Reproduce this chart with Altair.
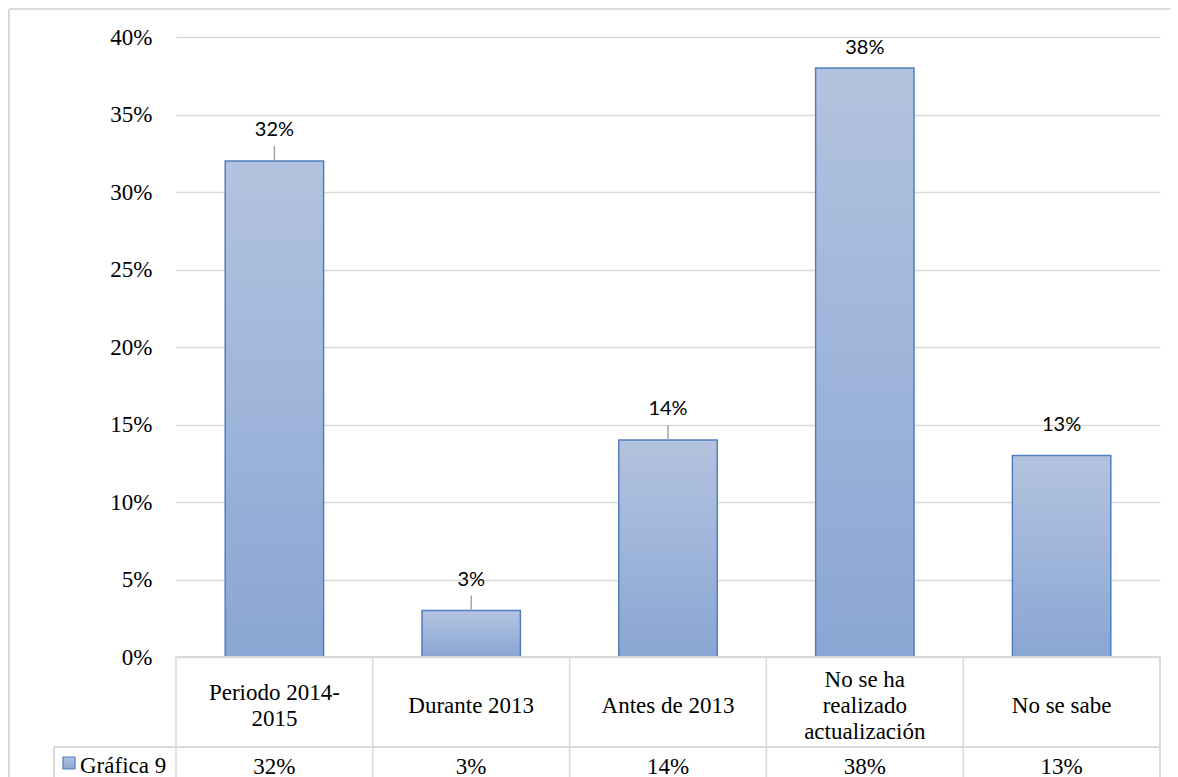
import altair as alt
import pandas as pd

# ---- data ----
categories = ["Periodo 2014-2015", "Durante 2013", "Antes de 2013",
              "No se ha realizado actualización", "No se sabe"]
table_labels = ["Periodo 2014-\n2015", "Durante 2013", "Antes de 2013",
                "No se ha\nrealizado\nactualización", "No se sabe"]
values = [0.32, 0.03, 0.14, 0.38, 0.13]
series_name = "Gráfica 9"
y_ticks = [0, 0.05, 0.10, 0.15, 0.20, 0.25, 0.30, 0.35, 0.40]

# ---- style ----
has_leader = [True, True, True, False, False]
W, H = 984, 620
YMAX = 0.4
PX = H / YMAX                      # pixels per unit
STEP = W / len(categories)
GRID = "#d9d9d9"
EDGE = "#4f7fbf"
SERIF = "'Liberation Serif', 'Times New Roman', 'DejaVu Serif', serif"
SANS = "Lato"
FS = 23
LH = 26

grad = alt.LinearGradient(
    gradient="linear", x1=0, x2=0, y1=0, y2=1,
    stops=[alt.GradientStop(color="#b3c3df", offset=0),
           alt.GradientStop(color="#8aa6d4", offset=1)])

df = pd.DataFrame({"cat": categories, "label": table_labels,
                   "value": values, "leader": has_leader})

xenc = alt.X("cat:N", sort=categories, axis=None,
             scale=alt.Scale(paddingInner=0.5, paddingOuter=0.25))

base = alt.Chart(df)

frame_top = base.mark_rule(color=GRID, strokeWidth=1.5).encode(
    x=alt.value(-167), x2=alt.value(W + 10), y=alt.value(-28))
frame_left = base.mark_rule(color=GRID, strokeWidth=1.5).encode(
    x=alt.value(-167), y=alt.value(-28), y2=alt.value(H + 200))

bars = base.mark_bar(fill=grad, stroke=EDGE, strokeWidth=1.5).encode(
    x=xenc,
    y=alt.Y("value:Q", scale=alt.Scale(domain=[0, YMAX]),
            axis=alt.Axis(values=y_ticks, format=".0%", domain=False, ticks=False,
                          grid=True, gridColor=GRID, gridWidth=1.5,
                          labelFont=SERIF, labelFontSize=FS, labelColor="#000000",
                          labelPadding=24, title=None)))

leaders = base.transform_filter("datum.leader").transform_calculate(
    top=f"datum.value + 15/{PX}").mark_rule(color="#a6a6a6", strokeWidth=1.5).encode(
    x=xenc, y="value:Q", y2="top:Q")

labels = base.transform_calculate(
    ly=f"min(datum.value + 31/{PX}, {YMAX} - 11/{PX})").mark_text(
    font=SANS, fontSize=20, color="#000000", baseline="middle").encode(
    x=xenc, y="ly:Q", text=alt.Text("value:Q", format=".0%"))

# ---- data table ----
hline_top = base.mark_rule(color=GRID, strokeWidth=1.5).encode(
    x=alt.value(0), x2=alt.value(W), y=alt.value(H))
hline_mid = base.mark_rule(color=GRID, strokeWidth=1.5).encode(
    x=alt.value(-122), x2=alt.value(W), y=alt.value(H + 90))
vlines = base.mark_rule(color=GRID, strokeWidth=1.5, xOffset=-STEP / 2).encode(
    x=xenc, y=alt.value(H), y2=alt.value(H + 200))
vline_right = base.mark_rule(color=GRID, strokeWidth=1.5).encode(
    x=alt.value(W), y=alt.value(H), y2=alt.value(H + 200))
vline_leg = base.mark_rule(color=GRID, strokeWidth=1.5).encode(
    x=alt.value(-122), y=alt.value(H + 90), y2=alt.value(H + 200))

cat_text = base.transform_calculate(
    ty=f"{H + 49} - (length(split(datum.label, '\\n')) - 1) * {LH / 2}").mark_text(
    font=SERIF, fontSize=FS, color="#000000",
    lineBreak="\n", lineHeight=LH, baseline="middle").encode(
    x=xenc, y=alt.Y("ty:Q", scale=None), text="label:N")
val_text = base.mark_text(font=SERIF, fontSize=FS, color="#000000",
                          baseline="middle").encode(
    x=xenc, y=alt.value(H + 110), text=alt.Text("value:Q", format=".0%"))

leg_df = pd.DataFrame({"name": [series_name]})
leg_key = alt.Chart(leg_df).mark_rect(fill=grad, stroke=EDGE, strokeWidth=1.2).encode(
    x=alt.value(-113), x2=alt.value(-101), y=alt.value(H + 100), y2=alt.value(H + 112))
leg_text = alt.Chart(leg_df).mark_text(font=SERIF, fontSize=FS, color="#000000",
                                       align="left", baseline="middle").encode(
    x=alt.value(-96), y=alt.value(H + 109), text="name:N")

chart = alt.layer(frame_top, frame_left, bars, leaders, labels, hline_top, hline_mid,
                  vlines, vline_right, vline_leg, cat_text, val_text,
                  leg_key, leg_text).properties(
    width=W, height=H,
    autosize=alt.AutoSizeParams(type="none"),
    padding={"left": 168, "top": 29, "right": 10, "bottom": 120},
    background="white",
).configure_view(stroke=None)

chart.save("out.html", embed_options={"renderer": "svg", "actions": False})
